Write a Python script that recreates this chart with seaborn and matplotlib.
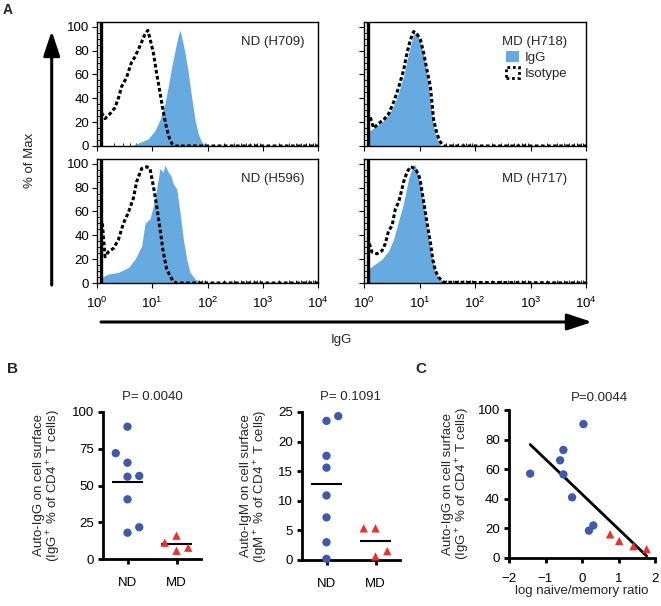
import numpy as np
import pandas as pd
import seaborn as sns
import matplotlib.pyplot as plt
from matplotlib.patches import Patch, FancyArrowPatch
from matplotlib.ticker import LogLocator, MultipleLocator, NullFormatter

# ---------------- Panel A: flow histograms (intensity vs % of max) ----------------
h709_iso_x = [1.2, 1.4, 1.8, 2.1, 2.4, 2.8, 3.4, 4.2, 4.9, 6.0, 7.4, 8.3, 9.1, 10.5, 12.0, 13.8, 15.8, 18.2, 20.9, 23.1, 25.8, 10000]
h709_iso_y = [28, 23, 28, 32, 39, 50, 57, 70, 75, 84, 94, 97, 90, 78, 61, 45, 29, 15, 5, 1.5, 0, 0]
h709_igg_x = [4.0, 5.6, 8.5, 11.2, 13.8, 17.0, 19.5, 22.4, 25.8, 29.6, 31.8, 35.0, 39.2, 45.0, 51.6, 59.4, 68.2, 78.3, 96.6]
h709_igg_y = [0, 2.5, 6, 13, 22, 36, 50, 66, 80, 93, 97, 89, 78, 61, 41, 22, 10, 3.5, 0]

h596_iso_x = [1.25, 1.4, 1.6, 1.98, 2.43, 3.0, 3.69, 4.55, 5.22, 6.43, 7.93, 9.1, 10.5, 12.0, 13.8, 15.8, 18.2, 20.9, 24.1, 27.7, 10000]
h596_iso_y = [50, 22, 26, 29, 36, 50, 59, 71, 85, 96, 97.5, 96, 81, 65, 45.5, 26, 12, 6, 1.2, 0, 0]
h596_igg_x = [1.21, 1.6, 2.43, 3.69, 4.88, 6.43, 7.39, 9.1, 10.5, 12.0, 13.8, 15.8, 17.0, 19.5, 21.8, 24.1, 27.7, 31.8, 36.5, 42.0, 48.2, 59.4, 78.3, 90.2]
h596_igg_y = [4.7, 7.5, 8.9, 13, 20, 31, 50, 54, 65, 79, 96, 93, 99, 93, 90, 83, 79, 59.5, 37, 20, 9, 3.3, 0.5, 0]

h718_iso_x = [1.3, 1.49, 1.84, 2.26, 2.78, 3.43, 3.94, 4.52, 5.19, 5.96, 6.84, 7.86, 9.0, 10.4, 11.9, 13.6, 15.7, 16.8, 18.0, 20.7, 23.7, 27.2, 10000]
h718_iso_y = [24, 15, 19, 22, 27, 37, 45, 54, 64, 78, 89, 96, 94, 89, 78, 64, 50, 36, 22, 10, 3.4, 0, 0]
h718_igg_x = [1.21, 1.6, 2.11, 2.78, 3.43, 4.22, 5.19, 5.96, 6.84, 7.86, 8.77, 10.4, 11.9, 13.6, 14.6, 16.1, 18.0, 20.7, 23.7]
h718_igg_y = [12, 16, 20, 26, 34, 45, 59, 72, 84, 94, 95.5, 87, 76, 61, 50, 33, 16, 6, 0.6]

h717_iso_x = [1.25, 1.39, 1.71, 2.11, 2.42, 2.78, 3.2, 3.67, 4.22, 4.84, 5.19, 5.96, 6.84, 8.4, 9.7, 10.4, 11.9, 13.6, 15.7, 17.3, 19.3, 22.1, 27.2, 10000]
h717_iso_y = [33, 26, 24.5, 27, 33, 44, 48, 62, 68, 79, 85, 93, 97.5, 96, 90.5, 85, 68, 51, 34, 20, 10.4, 4.8, 0.6, 0]
h717_igg_x = [1.21, 1.6, 2.11, 2.78, 3.43, 4.22, 4.84, 5.56, 6.38, 7.33, 8.2, 9.0, 10.4, 11.9, 13.6, 15.7, 18.0, 20.7, 25.4, 31.3]
h717_igg_y = [12, 16, 20, 27, 37, 52.5, 62, 74, 88, 96, 99.4, 95, 82, 65, 47, 29, 14.6, 6.2, 2, 0.6]

spike_at = 1.2  # first-channel pile-up drawn as a solid bar
hist_titles = ["ND (H709)", "MD (H718)", "ND (H596)", "MD (H717)"]

# ---------------- Panel B: dot plots ----------------
igg_nd = [90, 72, 65.5, 56, 56.5, 40.6, 17.9, 21.6]
igg_nd_jit = [0, -0.24, 0, 0, 0.24, 0, 0, 0.24]
igg_md = [11.1, 15.9, 5.6, 7.7]
igg_md_jit = [-0.24, 0, 0, 0.24]

igm_nd = [23.5, 24.3, 17.6, 15.6, 10.9, 7.2, 3.0, 0.2]
igm_nd_jit = [0, 0.24, 0, 0, 0, 0, 0, 0]
igm_md = [5.35, 5.35, 0.6, 1.5]
igm_md_jit = [-0.24, 0, 0, 0.24]

groups = ["ND", "MD"]

# ---------------- Panel C: correlation ----------------
ratio_nd = [-1.42, -0.60, -0.51, -0.51, -0.27, 0.04, 0.19, 0.31]
ratio_nd_igg = [57, 66, 73, 56.5, 41, 90.5, 18.5, 22]
ratio_md = [0.77, 1.02, 1.41, 1.77]
ratio_md_igg = [16, 11.5, 8, 6]

BLUE_FILL = "#67aadf"
BLUE = "#3e5ba9"
RED = "#e8312a"
FS = 9.5

sns.set_theme(style="ticks")
plt.rcParams["font.family"] = ["Liberation Sans", "DejaVu Sans"]
plt.rcParams["mathtext.default"] = "regular"
plt.rcParams["axes.edgecolor"] = "black"
plt.rcParams["xtick.color"] = "black"
plt.rcParams["ytick.color"] = "black"

fig = plt.figure(figsize=(6.61, 6.06), dpi=100)

W, H = 661.0, 606.0


def rect(x0, y0, x1, y1):
    # pixel box (top-left origin) -> figure fraction
    return [x0 / W, 1 - y1 / H, (x1 - x0) / W, (y1 - y0) / H]


hist_boxes = [rect(97, 22, 318, 146), rect(364, 22, 586, 146),
              rect(97, 159, 318, 283), rect(364, 159, 586, 283)]
hist_data = [(h709_igg_x, h709_igg_y, h709_iso_x, h709_iso_y),
             (h718_igg_x, h718_igg_y, h718_iso_x, h718_iso_y),
             (h596_igg_x, h596_igg_y, h596_iso_x, h596_iso_y),
             (h717_igg_x, h717_igg_y, h717_iso_x, h717_iso_y)]
title_x = [0.94, 0.914, 0.94, 0.914]

for i, (box, (gx, gy, ix, iy)) in enumerate(zip(hist_boxes, hist_data)):
    ax = fig.add_axes(box)
    ax.fill_between(gx, gy, color=BLUE_FILL, lw=0)
    sns.lineplot(x=ix, y=iy, sort=False, estimator=None, color="black",
                 lw=2.2, linestyle=(0, (1.2, 0.8)), ax=ax)
    ax.axvline(spike_at, color="black", lw=2.4)
    ax.set_xscale("log")
    ax.set_xlim(1, 1e4)
    ax.set_ylim(0, 104)
    ax.xaxis.set_major_locator(LogLocator(base=10, numticks=10))
    ax.xaxis.set_minor_locator(LogLocator(base=10, subs=np.arange(2, 10), numticks=10))
    ax.xaxis.set_minor_formatter(NullFormatter())
    ax.yaxis.set_major_locator(MultipleLocator(20))
    ax.yaxis.set_minor_locator(MultipleLocator(5))
    ax.tick_params(which="major", direction="out", length=3.5, width=0.8, labelsize=FS, pad=2)
    ax.tick_params(axis="x", which="major", pad=6)
    ax.tick_params(which="minor", direction="in", length=2, width=0.6)
    for s in ax.spines.values():
        s.set_linewidth(1.0)
    if i < 2:
        ax.tick_params(labelbottom=False)
    if i % 2 == 1:
        ax.tick_params(labelleft=False)
    ax.set_xlabel("")
    ax.set_ylabel("")
    ax.text(title_x[i], 0.84, hist_titles[i], transform=ax.transAxes,
            ha="right", va="center", fontsize=FS)
    if i == 1:
        handles = [Patch(facecolor=BLUE_FILL, edgecolor="none", label="IgG"),
                   Patch(facecolor="none", edgecolor="black", lw=2,
                         linestyle=(0, (1, 1)), label="Isotype")]
        ax.legend(handles=handles, loc="upper left", bbox_to_anchor=(0.64, 0.77),
                  frameon=False, fontsize=FS, handlelength=1.0, handleheight=1.0,
                  handletextpad=0.4, borderpad=0, borderaxespad=0, labelspacing=0.2)

# axis arrows and labels of panel A
fig.add_artist(FancyArrowPatch((51.7 / W, 1 - 285 / H), (51.7 / W, 1 - 31 / H),
                               transform=fig.transFigure, arrowstyle="-|>,head_length=1.5,head_width=0.5",
                               mutation_scale=10, lw=2.2, color="black", shrinkA=0, shrinkB=0))
fig.add_artist(FancyArrowPatch((101 / W, 1 - 322 / H), (592 / W, 1 - 322 / H),
                               transform=fig.transFigure, arrowstyle="-|>,head_length=1.5,head_width=0.5",
                               mutation_scale=10, lw=2.2, color="black", shrinkA=0, shrinkB=0))
fig.text(30 / W, 1 - 160 / H, "% of Max", rotation=90, ha="center", va="center", fontsize=FS)
fig.text(341 / W, 1 - 340 / H, "IgG", ha="center", va="center", fontsize=FS)

fig.text(3 / W, 1 - 3 / H, "A", ha="left", va="top", fontsize=10, fontweight="bold")
fig.text(7 / W, 1 - 362 / H, "B", ha="left", va="top", fontsize=11, fontweight="bold")
fig.text(415 / W, 1 - 362 / H, "C", ha="left", va="top", fontsize=11, fontweight="bold")


def style_prism(ax, xpad):
    sns.despine(ax=ax)
    for s in ("left", "bottom"):
        ax.spines[s].set_linewidth(2.0)
    ax.tick_params(direction="out", length=3.6, width=2.0, labelsize=FS, pad=3)
    ax.tick_params(axis="x", pad=xpad)


def dot_panel(ax, nd, nd_jit, md, md_jit, ylim, yticks, ylabel, ptext):
    df = pd.DataFrame({"group": ["ND"] * len(nd) + ["MD"] * len(md),
                       "value": nd + md,
                       "jit": nd_jit + md_jit})
    df["pos"] = df["group"].map({g: k for k, g in enumerate(groups)}) + df["jit"]
    sns.scatterplot(data=df, x="pos", y="value", hue="group", style="group",
                    markers={"ND": "o", "MD": "^"}, palette={"ND": BLUE, "MD": RED},
                    s=36, edgecolor="none", legend=False, clip_on=False, zorder=3, ax=ax)
    means = df.groupby("group")["value"].mean()
    for k, g in enumerate(groups):
        ax.hlines(means[g], k - 0.32, k + 0.32, color="black", lw=1.5, zorder=2)
    ax.set_xlim(-0.5, 1.5)
    ax.set_ylim(*ylim)
    ax.set_xticks(range(len(groups)))
    ax.set_xticklabels(groups)
    ax.set_yticks(yticks)
    ax.set_xlabel("")
    ax.set_ylabel(ylabel, fontsize=FS, labelpad=6, linespacing=1.0)
    ax.set_title(ptext, fontsize=FS, pad=9)
    style_prism(ax, 9.5)


ax_b1 = fig.add_axes(rect(103, 412, 201, 559))
dot_panel(ax_b1, igg_nd, igg_nd_jit, igg_md, igg_md_jit, (0, 100), [0, 25, 50, 75, 100],
          "Auto-IgG on cell surface\n(IgG$^+$ % of CD4$^+$ T cells)", "P= 0.0040")

ax_b2 = fig.add_axes(rect(302, 412, 400, 560))
dot_panel(ax_b2, igm_nd, igm_nd_jit, igm_md, igm_md_jit, (0, 25), [0, 5, 10, 15, 20, 25],
          "Auto-IgM on cell surface\n(IgM$^+$ % of CD4$^+$ T cells)", "P= 0.1091")

# Panel C
ax_c = fig.add_axes(rect(509, 410, 655, 558))
cdf = pd.DataFrame({"ratio": ratio_nd + ratio_md,
                    "igg": ratio_nd_igg + ratio_md_igg,
                    "group": ["ND"] * len(ratio_nd) + ["MD"] * len(ratio_md)})
sns.regplot(data=cdf, x="ratio", y="igg", scatter=False, ci=None, truncate=True,
            line_kws={"color": "black", "lw": 2.0}, ax=ax_c)
sns.scatterplot(data=cdf, x="ratio", y="igg", hue="group", style="group",
                markers={"ND": "o", "MD": "^"}, palette={"ND": BLUE, "MD": RED},
                s=36, edgecolor="none", legend=False, clip_on=False, zorder=3, ax=ax_c)
ax_c.set_xlim(-2, 2)
ax_c.set_ylim(0, 100)
ax_c.set_xticks([-2, -1, 0, 1, 2])
ax_c.set_yticks([0, 20, 40, 60, 80, 100])
ax_c.set_xlabel("log naive/memory ratio", fontsize=FS, labelpad=0)
ax_c.set_ylabel("Auto-IgG on cell surface\n(IgG$^+$ % of CD4$^+$ T cells)", fontsize=FS,
                labelpad=4, linespacing=1.0)
ax_c.text(0.62, 1.08, "P=0.0044", transform=ax_c.transAxes, ha="center", va="center", fontsize=FS)
style_prism(ax_c, 7)

fig.savefig("out.png", dpi=100)
